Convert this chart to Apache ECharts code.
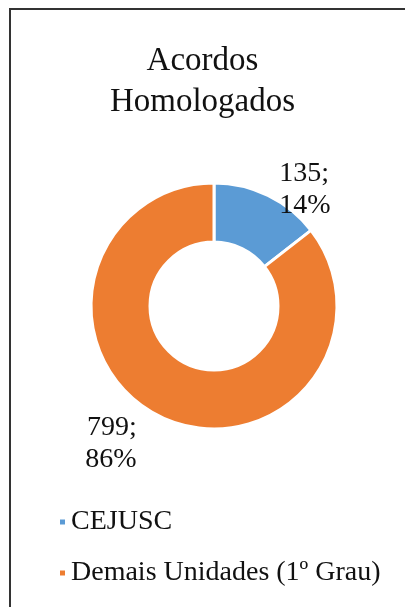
<!DOCTYPE html>
<html>
<head>
<meta charset="utf-8">
<script src="https://cdn.jsdelivr.net/npm/echarts@6/dist/echarts.min.js"></script>
<style>
    html, body { margin: 0; padding: 0; background: #fff; }
    #main { width: 405px; height: 607px; }
</style>
</head>
<body>
<div id="main"></div>
<script>
var categories = ['CEJUSC', 'Demais Unidades (1º Grau)'];
var values = [135, 799];
var percents = [14, 86];
var colors = ['#5B9BD5', '#ED7D31'];

var pieData = [];
for (var i = 0; i < categories.length; i++) {
    pieData.push({
        name: categories[i],
        value: values[i],
        pct: percents[i],
        itemStyle: { color: colors[i] }
    });
}

var myChart = echarts.init(document.getElementById('main'));

var option = {
    backgroundColor: '#fff',
    title: {
        text: 'Acordos\nHomologados',
        left: 'center',
        top: 36,
        textStyle: {
            fontFamily: 'Liberation Serif',
            fontWeight: 'normal',
            fontSize: 33,
            lineHeight: 41,
            color: '#111'
        }
    },
    legend: {
        orient: 'vertical',
        left: 53,
        top: 503,
        icon: 'rect',
        itemWidth: 7,
        itemHeight: 7,
        itemGap: 23,
        textStyle: {
            fontFamily: 'Liberation Serif',
            fontSize: 28,
            color: '#111'
        },
        data: categories
    },
    graphic: [{
        type: 'rect',
        shape: { x: 10, y: 9, width: 420, height: 620 },
        style: { fill: 'none', stroke: '#333', lineWidth: 2 }
    }],
    series: [{
        type: 'pie',
        center: [214, 306],
        radius: [64, 123],
        startAngle: 90,
        clockwise: true,
        itemStyle: { borderColor: '#fff', borderWidth: 3 },
        label: {
            show: true,
            position: 'outside',
            fontFamily: 'Liberation Serif',
            fontSize: 28,
            lineHeight: 32,
            color: '#111',
            formatter: function (p) {
                return p.value + ';\n' + p.data.pct + '%';
            }
        },
        labelLine: { show: false, length: 10, length2: 0 },
        // Excel puts the big slice label lower-left
        labelLayout: function (params) {
            if (params.dataIndex === 1) {
                return { dx: -14, dy: 18 };
            }
            return { dx: 2, dy: 3 };
        },
        emphasis: { disabled: true },
        data: pieData
    }]
};
myChart.setOption(option, true);
</script>
</body>
</html>
